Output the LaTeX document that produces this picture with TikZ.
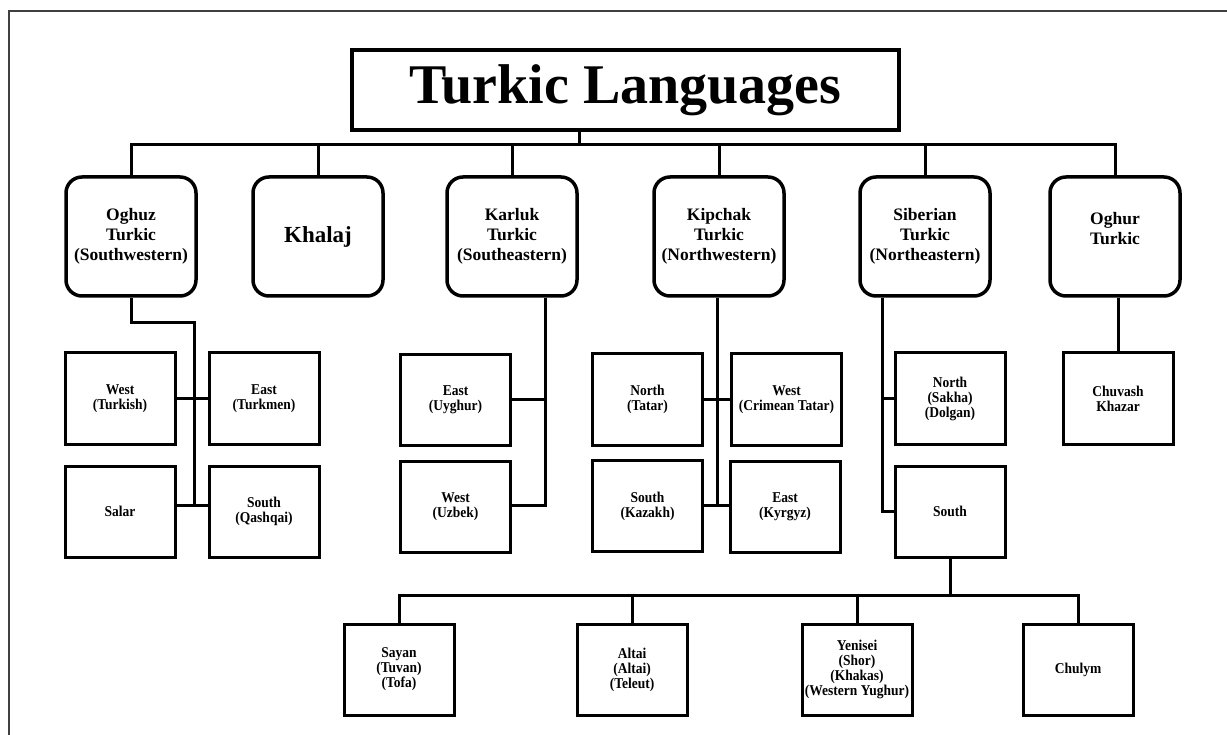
\documentclass[tikz,border=0pt]{standalone}
\usepackage{fontspec}
\setmainfont{Liberation Serif}
\newfontfamily\condfont{Liberation Serif}[FakeStretch=0.9]
\begin{document}
\begin{tikzpicture}[x=1pt,y=-1pt,
  every node/.style={inner sep=0pt},
  titlebox/.style={draw,line width=3.5pt,minimum width=547pt,minimum height=80pt,
    font=\bfseries\fontsize{56}{60}\selectfont},
  famnode/.style={draw,line width=3.5pt,rounded corners=16pt,minimum width=130pt,
    minimum height=119pt,align=center,font=\bfseries\fontsize{17.5}{20}\selectfont},
  famtext/.style={align=center,font=\bfseries\fontsize{17.5}{20}\selectfont},
  subnode/.style={draw,line width=3pt,minimum width=110pt,minimum height=91pt,
    align=center,font=\condfont\bfseries\fontsize{15}{15}\selectfont},
  conn/.style={line width=3pt}]
\useasboundingbox (0,0) rectangle (1227,735);
% frame (only left and top edges visible)
\draw[line width=2pt,black!75] (9,735) -- (9,11) -- (1227,11);

% title
\node[titlebox] (title) at (625.5,90) {Turkic Languages};

% level 1
\node[famnode] (oghuz) at (131,236.5) {Oghuz\\Turkic\\(Southwestern)};
\node[famnode,font=\bfseries\fontsize{23}{26}\selectfont] (khalaj) at (318,236.5) {Khalaj};
\node[famnode] (karluk) at (512,236.5) {Karluk\\Turkic\\(Southeastern)};
\node[famnode] (kipchak) at (719,236.5) {Kipchak\\Turkic\\(Northwestern)};
\node[famnode] (siberian) at (925,236.5) {Siberian\\Turkic\\(Northeastern)};
\node[famnode] (oghur) at (1115,236.5) {};
\node[famtext] (oghurtxt) at (1115,229) {Oghur\\Turkic};

% level 2 - Oghuz
\node[subnode] (westT) at (120,398.5) {West\\(Turkish)};
\node[subnode] (eastT) at (264,398.5) {East\\(Turkmen)};
\node[subnode] (salar) at (120,511.5) {Salar};
\node[subnode] (southQ) at (264,511.5) {South\\(Qashqai)};
% Karluk
\node[subnode] (uyghur) at (455.5,400) {East\\(Uyghur)};
\node[subnode] (uzbek) at (455.5,507) {West\\(Uzbek)};
% Kipchak
\node[subnode] (tatar) at (647.5,399.5) {North\\(Tatar)};
\node[subnode] (crimean) at (786.5,399.5) {West\\(Crimean Tatar)};
\node[subnode] (kazakh) at (647.5,506) {South\\(Kazakh)};
\node[subnode] (kyrgyz) at (785,507) {East\\(Kyrgyz)};
% Siberian
\node[subnode] (sakha) at (950,398.5) {North\\(Sakha)\\(Dolgan)};
\node[subnode] (sibsouth) at (950,511.5) {South};
% Oghur
\node[subnode] (chuvash) at (1118,398.5) {Chuvash\\Khazar};
% level 3
\node[subnode] (sayan) at (399,669.5) {Sayan\\(Tuvan)\\(Tofa)};
\node[subnode] (altai) at (632,669.5) {Altai\\(Altai)\\(Teleut)};
\node[subnode] (yenisei) at (857,669.5) {Yenisei\\(Shor)\\(Khakas)\\(Western Yughur)};
\node[subnode] (chulym) at (1078,669.5) {Chulym};

% top bus
\coordinate (tbus) at (579,145);
\draw[conn] (title.south -| tbus) -- (tbus);
\draw[conn] (oghuz.north) |- (tbus) -| (oghur.north);
\foreach \n in {khalaj,karluk,kipchak,siberian}
  \draw[conn] (\n.north) -- (\n.north |- tbus);

% Oghuz branch
\coordinate (ob) at (194,323);
\coordinate (oe) at (194,505);
\draw[conn] (oghuz.south) |- (ob) -- (oe);
\draw[conn] (westT.east) -- (eastT.west);
\draw[conn] ([yshift=6.5pt]salar.east) -- ([yshift=6.5pt]southQ.west);

% Karluk branch
\coordinate (kb) at (545,505);
\draw[conn] (karluk.south -| kb) -- (kb) -- (kb -| uzbek.east);
\draw[conn] (uyghur.east) -- (uyghur.east -| kb);

% Kipchak branch
\coordinate (kpb) at (717,505);
\draw[conn] (kipchak.south -| kpb) -- (kpb);
\draw[conn] (tatar.east) -- (crimean.west);
\draw[conn] (kpb -| kazakh.east) -- (kpb -| kyrgyz.west);

% Siberian branch
\coordinate (sb) at (882,511.5);
\draw[conn] (siberian.south -| sb) -- (sb) -- (sibsouth.west);
\draw[conn] (sakha.west) -- (sakha.west -| sb);

% Oghur branch
\draw[conn] (oghur.south -| chuvash.north) -- (chuvash.north);

% South (Siberian) bus
\coordinate (bb) at (950,595);
\draw[conn] (sibsouth.south) -- (bb);
\draw[conn] (sayan.north) |- (bb) -| (chulym.north);
\draw[conn] (altai.north) -- (altai.north |- bb);
\draw[conn] (yenisei.north) -- (yenisei.north |- bb);
\end{tikzpicture}
\end{document}
